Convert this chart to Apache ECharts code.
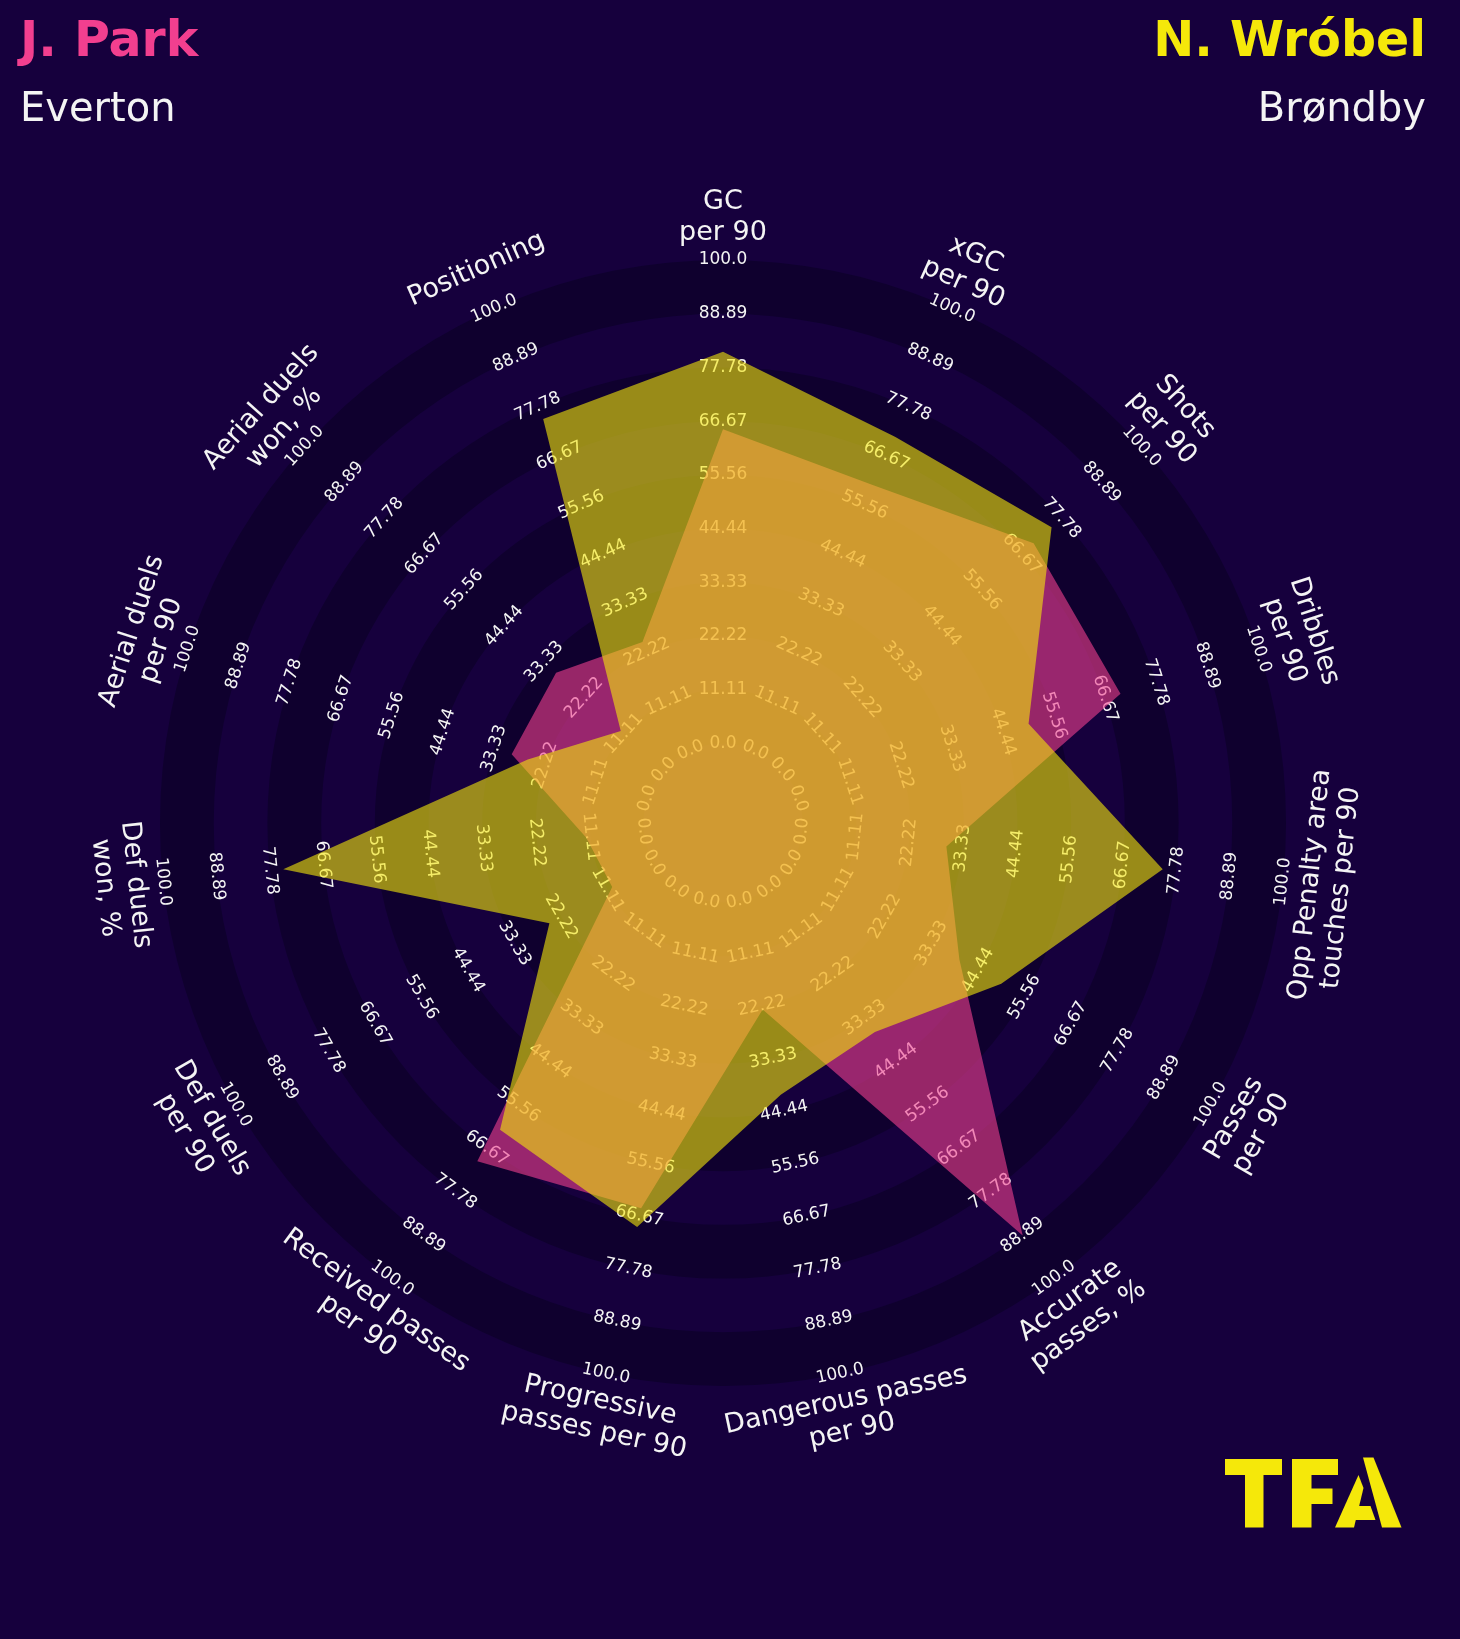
<!DOCTYPE html>
<html>
<head>
<meta charset="utf-8">
<script src="https://cdn.jsdelivr.net/npm/echarts@6/dist/echarts.min.js"></script>
<style>
html,body{margin:0;padding:0;background:#16003d;}
#chart{width:1460px;height:1639px;}
</style>
</head>
<body>
<div id="chart"></div>
<script>
// ---- data (clockwise from the top) ----
const params = [
  'GC\nper 90', 'xGC\nper 90', 'Shots\nper 90', 'Dribbles\nper 90',
  'Opp Penalty area\ntouches per 90', 'Passes\nper 90', 'Accurate\npasses, %',
  'Dangerous passes\nper 90', 'Progressive\npasses per 90', 'Received passes\nper 90',
  'Def duels\nper 90', 'Def duels\nwon, %', 'Aerial duels\nper 90',
  'Aerial duels\nwon, %', 'Positioning'
];
const parkValues   = [65, 60, 70, 70, 30, 40, 89, 23, 65, 70, 10, 12, 29.5, 30, 24.5];
const wrobelValues = [81, 71, 75, 50, 75, 50, 37, 41, 69, 62, 25, 75, 26, 12, 75];
const ringLabels = ['0.0', '11.11', '22.22', '33.33', '44.44', '55.56', '66.67', '77.78', '88.89', '100.0'];
const players = ['J. Park', 'N. Wróbel'];
const teams = ['Everton', 'Brøndby'];

// ---- style ----
const BG = '#16003d';
const BAND = '#0f002e';
const PINK = '#f23f8f';
const YELLOW = '#f5e80a';
const TEXT = '#f4f4f4';
const FONT = '"DejaVu Sans", sans-serif';

const n = params.length;
// ECharts lays radar indicators out counter-clockwise: reverse to get clockwise order
const order = [0];
for (let i = n - 1; i >= 1; i--) order.push(i);

function tangentRotation(i) {
  let theta = 90 - i * 360 / n;
  while (theta <= -180) theta += 360;
  while (theta > 180) theta -= 360;
  return (theta > 0 && theta < 180) ? theta - 90 : theta + 90;
}

const indicators = order.map(function (i) {
  const rot = tangentRotation(i);
  return {
    name: params[i],
    min: 0,
    max: 100,
    nameRotate: rot,
    nameMoveOverlap: false,
    axisLabel: { rotate: rot }
  };
});

const chart = echarts.init(document.getElementById('chart'), null, { renderer: 'canvas' });

const logoShapes = [
  // T
  { type: 'rect', shape: { x: 1225, y: 1459, width: 57, height: 16 } },
  { type: 'rect', shape: { x: 1245, y: 1459, width: 18.5, height: 68.5 } },
  // F
  { type: 'rect', shape: { x: 1292, y: 1459, width: 46, height: 16 } },
  { type: 'rect', shape: { x: 1292, y: 1459, width: 19.5, height: 68.5 } },
  { type: 'rect', shape: { x: 1311, y: 1488.5, width: 21.5, height: 15.5 } },
  // A
  { type: 'polygon', shape: { points: [[1363, 1457.5], [1373.5, 1457.5], [1401.5, 1527.5], [1382, 1527.5]] } },
  { type: 'polygon', shape: { points: [[1358.5, 1475], [1363.5, 1488], [1354, 1527.5], [1335, 1527.5]] } },
  { type: 'polygon', shape: { points: [[1358, 1506], [1370.5, 1506], [1375.5, 1520], [1354, 1520]] } }
].map(function (g) { g.style = { fill: YELLOW }; g.silent = true; return g; });

const option = {
  backgroundColor: BG,
  animation: false,
  radar: {
    center: [723, 823],
    radius: [79.6, 563],
    startAngle: 90,
    shape: 'circle',
    splitNumber: 9,
    axisNameGap: 43,
    nameGap: 43,
    axisName: {
      show: true,
      color: TEXT,
      fontSize: 27,
      fontFamily: FONT,
      lineHeight: 31,
      align: 'center',
      verticalAlign: 'middle'
    },
    axisLine: { show: false },
    axisTick: { show: false },
    axisLabel: {
      show: true,
      margin: 0,
      color: TEXT,
      fontSize: 17,
      fontFamily: FONT,
      align: 'center',
      verticalAlign: 'middle',
      formatter: function (v, idx) { return ringLabels[idx]; }
    },
    splitLine: { show: false },
    splitArea: {
      show: true,
      areaStyle: { color: [BAND, 'rgba(0,0,0,0)'] }
    },
    indicator: indicators
  },
  series: [{
    type: 'radar',
    symbol: 'none',
    silent: true,
    data: [
      {
        name: players[0],
        value: order.map(function (i) { return parkValues[i]; }),
        lineStyle: { opacity: 0, width: 0 },
        areaStyle: { color: PINK, opacity: 0.6 }
      },
      {
        name: players[1],
        value: order.map(function (i) { return wrobelValues[i]; }),
        lineStyle: { opacity: 0, width: 0 },
        areaStyle: { color: YELLOW, opacity: 0.6 }
      }
    ]
  }],
  graphic: [
    { type: 'text', left: 20, top: 19, style: { text: players[0], fill: PINK, font: 'bold 49px "DejaVu Sans"' } },
    { type: 'text', left: 20, top: 91, style: { text: teams[0], fill: TEXT, font: '40px "DejaVu Sans"' } },
    { type: 'text', right: 34, top: 19, style: { text: players[1], fill: YELLOW, font: 'bold 49px "DejaVu Sans"' } },
    { type: 'text', right: 34, top: 91, style: { text: teams[1], fill: TEXT, font: '40px "DejaVu Sans"' } }
  ].concat(logoShapes)
};

chart.setOption(option);
</script>
</body>
</html>
